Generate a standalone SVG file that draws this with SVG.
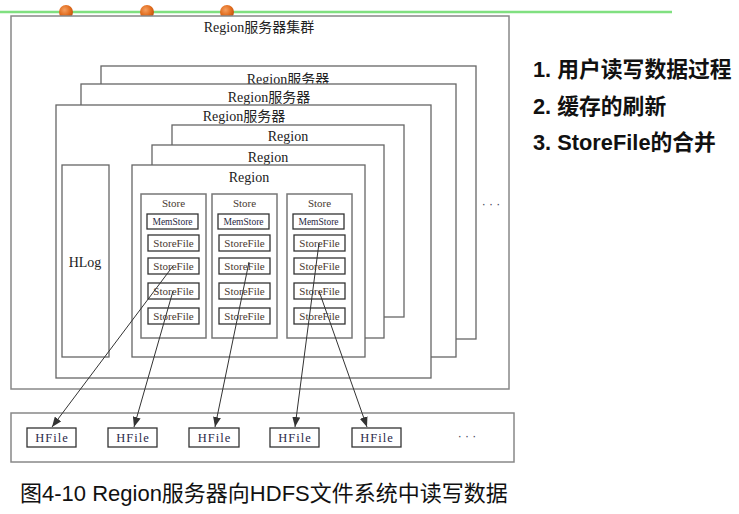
<svg xmlns="http://www.w3.org/2000/svg" width="739" height="514" viewBox="0 0 739 514">
  <defs>
    <radialGradient id="ball" cx="0.4" cy="0.35" r="0.7">
      <stop offset="0" stop-color="#f6a060"/>
      <stop offset="0.6" stop-color="#e06a1c"/>
      <stop offset="1" stop-color="#b8500e"/>
    </radialGradient>
    <marker id="arrow" markerUnits="userSpaceOnUse" markerWidth="11" markerHeight="8" refX="10" refY="4" orient="auto">
      <path d="M0,0 L10,4 L0,8 z" fill="#333"/>
    </marker>
  </defs>
  <style>
    .frame { fill: #fff; stroke: #666; stroke-width: 1.3; }
    .light { fill: #fff; stroke: #888; stroke-width: 1.5; }
    .store { fill: #fff; stroke: #777; stroke-width: 1.5; }
    .cell { fill: #fff; stroke: #333; stroke-width: 1.3; }
    .lbl { font-family: "Liberation Serif", "Noto Sans CJK SC", serif; font-size: 14px; fill: #222; text-anchor: middle; }
    .sm { font-family: "Liberation Serif", "Noto Sans CJK SC", serif; font-size: 11px; fill: #4a3a30; text-anchor: middle; }
    .ms { font-size: 9.5px; fill: #2a2a44; }
    .dots { font-family: "Liberation Sans", sans-serif; font-size: 12px; fill: #445; text-anchor: middle; }
    .hf { font-family: "Liberation Serif", serif; font-size: 12.5px; fill: #2a2a4a; text-anchor: middle; letter-spacing: 1px; }
    .list { font-family: "Liberation Sans", "Noto Sans CJK SC", sans-serif; font-size: 21.8px; font-weight: bold; fill: #111; }
    .cap { font-family: "Liberation Sans", "Noto Sans CJK SC", sans-serif; font-size: 22px; fill: #111; }
    .conn { stroke: #333; stroke-width: 1; fill: none; marker-end: url(#arrow); }
  </style>

  <!-- slide header rule with bullets -->
  <g id="header">
    <line x1="0" y1="12" x2="672" y2="12" stroke="#80e080" stroke-width="2.5"/>
    <circle cx="66" cy="12" r="7" fill="url(#ball)"/>
    <circle cx="147" cy="12" r="7" fill="url(#ball)"/>
    <circle cx="227" cy="12" r="7" fill="url(#ball)"/>
  </g>

  <!-- region server cluster -->
  <g id="cluster">
    <rect class="light" x="11" y="16" width="498" height="373"/>
    <text class="lbl" x="259" y="32">Region服务器集群</text>
    <text class="dots" x="491" y="208">· · ·</text>
  </g>

  <g id="server-a">
    <rect class="frame" x="101" y="66" width="375" height="273"/>
    <text class="lbl" x="288" y="84">Region服务器</text>
  </g>
  <g id="server-b">
    <rect class="frame" x="81" y="84" width="375" height="273"/>
    <text class="lbl" x="269" y="102">Region服务器</text>
  </g>
  <g id="server-c">
    <rect class="frame" x="56" y="105" width="375" height="273"/>
    <text class="lbl" x="244" y="121">Region服务器</text>
  </g>

  <g id="region-1">
    <rect class="frame" x="172" y="125" width="232" height="192"/>
    <text class="lbl" x="288" y="141">Region</text>
  </g>
  <g id="region-2">
    <rect class="frame" x="152" y="145" width="232" height="193"/>
    <text class="lbl" x="268" y="162">Region</text>
  </g>
  <g id="region-3">
    <rect class="frame" x="132" y="165" width="233" height="192"/>
    <text class="lbl" x="249" y="182">Region</text>
  </g>

  <g id="hlog">
    <rect class="frame" x="62" y="165" width="47" height="192"/>
    <text class="lbl" x="85" y="267" font-size="13">HLog</text>
  </g>

  <!-- stores inside the front region -->
  <g id="store-1">
    <rect class="store" x="141" y="194" width="65" height="144"/>
    <text class="sm" x="173.5" y="207">Store</text>
    <rect class="cell" x="147" y="214" width="51" height="15"/>
    <text class="sm ms" x="172.5" y="225">MemStore</text>
    <rect class="cell" x="148" y="235" width="51" height="16"/>
    <text class="sm" x="173.5" y="247">StoreFile</text>
    <rect class="cell" x="148" y="258" width="51" height="16"/>
    <text class="sm" x="173.5" y="270">StoreFile</text>
    <rect class="cell" x="148" y="283" width="51" height="16"/>
    <text class="sm" x="173.5" y="295">StoreFile</text>
    <rect class="cell" x="148" y="308" width="51" height="16"/>
    <text class="sm" x="173.5" y="320">StoreFile</text>
  </g>
  <g id="store-2">
    <rect class="store" x="212" y="194" width="65" height="144"/>
    <text class="sm" x="244.5" y="207">Store</text>
    <rect class="cell" x="218" y="214" width="51" height="15"/>
    <text class="sm ms" x="243.5" y="225">MemStore</text>
    <rect class="cell" x="219" y="235" width="51" height="16"/>
    <text class="sm" x="244.5" y="247">StoreFile</text>
    <rect class="cell" x="219" y="258" width="51" height="16"/>
    <text class="sm" x="244.5" y="270">StoreFile</text>
    <rect class="cell" x="219" y="283" width="51" height="16"/>
    <text class="sm" x="244.5" y="295">StoreFile</text>
    <rect class="cell" x="219" y="308" width="51" height="16"/>
    <text class="sm" x="244.5" y="320">StoreFile</text>
  </g>
  <g id="store-3">
    <rect class="store" x="287" y="194" width="65" height="144"/>
    <text class="sm" x="319.5" y="207">Store</text>
    <rect class="cell" x="293" y="214" width="51" height="15"/>
    <text class="sm ms" x="318.5" y="225">MemStore</text>
    <rect class="cell" x="294" y="235" width="51" height="16"/>
    <text class="sm" x="319.5" y="247">StoreFile</text>
    <rect class="cell" x="294" y="258" width="51" height="16"/>
    <text class="sm" x="319.5" y="270">StoreFile</text>
    <rect class="cell" x="294" y="283" width="51" height="16"/>
    <text class="sm" x="319.5" y="295">StoreFile</text>
    <rect class="cell" x="294" y="308" width="51" height="16"/>
    <text class="sm" x="319.5" y="320">StoreFile</text>
  </g>

  <!-- HDFS with its HFiles -->
  <g id="hdfs">
    <rect class="light" x="11" y="413" width="503" height="49"/>
    <text class="dots" x="467" y="440">· · ·</text>
  </g>
  <g id="hfile-1">
    <rect class="cell" x="27" y="428" width="49" height="19"/>
    <text class="hf" x="52" y="442">HFile</text>
  </g>
  <g id="hfile-2">
    <rect class="cell" x="108" y="428" width="49" height="19"/>
    <text class="hf" x="133" y="442">HFile</text>
  </g>
  <g id="hfile-3">
    <rect class="cell" x="189" y="428" width="50" height="19"/>
    <text class="hf" x="214.5" y="442">HFile</text>
  </g>
  <g id="hfile-4">
    <rect class="cell" x="270" y="428" width="49" height="19"/>
    <text class="hf" x="295" y="442">HFile</text>
  </g>
  <g id="hfile-5">
    <rect class="cell" x="352" y="428" width="49" height="19"/>
    <text class="hf" x="377" y="442">HFile</text>
  </g>

  <!-- StoreFile to HFile links -->
  <g id="connectors">
    <line class="conn" x1="173" y1="266" x2="52" y2="427"/>
    <line class="conn" x1="173" y1="291" x2="134" y2="427"/>
    <line class="conn" x1="249" y1="262" x2="215" y2="427"/>
    <line class="conn" x1="319" y1="243" x2="295" y2="427"/>
    <line class="conn" x1="319" y1="291" x2="367" y2="427"/>
  </g>

  <!-- topics list -->
  <g id="topics">
    <text class="list" x="533" y="77">1. 用户读写数据过程</text>
    <text class="list" x="533" y="114">2. 缓存的刷新</text>
    <text class="list" x="533" y="150">3. StoreFile的合并</text>
  </g>

  <text class="cap" x="20" y="501">图4-10 Region服务器向HDFS文件系统中读写数据</text>
</svg>
